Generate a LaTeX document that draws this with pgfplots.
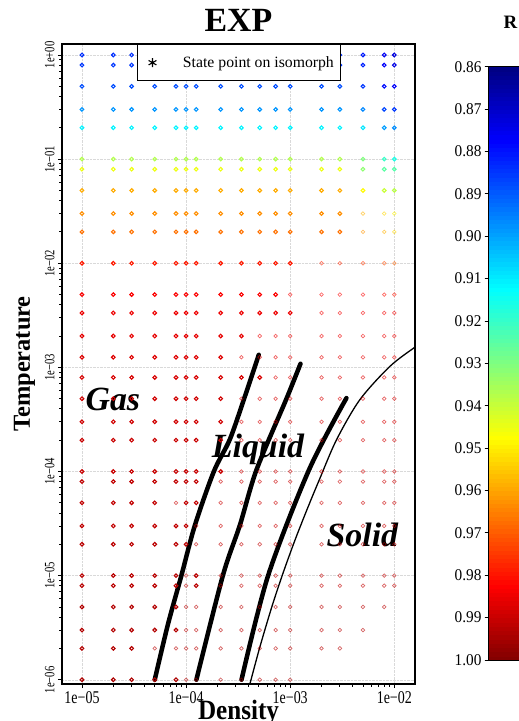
\documentclass[border=0pt]{standalone}
\usepackage{pgfplots}
\pgfplotsset{compat=1.18}
\usepackage{pgfplotstable}
\usepackage{fontspec}
\setmainfont{Liberation Serif}

% bold (opaque) state points: density, temperature, R
\pgfplotstableread[row sep=\\]{
x y R\\
1e-5 1 0.884\\ 2e-5 1 0.884\\ 3e-5 1 0.884\\ 5e-5 1 0.884\\ 8e-5 1 0.884\\ 1e-4 1 0.884\\ 1.25e-4 1 0.884\\ 2.15e-4 1 0.884\\ 3.4e-4 1 0.884\\
5.1e-4 1 0.884\\ 7.25e-4 1 0.884\\ 1e-3 1 0.884\\ 2e-3 1 0.884\\ 3e-3 1 0.884\\ 5e-3 1 0.881\\ 8e-3 1 0.876\\ 1e-2 1 0.873\\
1e-5 0.8 0.885\\ 2e-5 0.8 0.885\\ 3e-5 0.8 0.885\\ 5e-5 0.8 0.885\\ 8e-5 0.8 0.885\\ 1e-4 0.8 0.885\\ 1.25e-4 0.8 0.885\\ 2.15e-4 0.8 0.885\\ 3.4e-4 0.8 0.885\\
5.1e-4 0.8 0.885\\ 7.25e-4 0.8 0.885\\ 1e-3 0.8 0.885\\ 2e-3 0.8 0.885\\ 3e-3 0.8 0.885\\ 5e-3 0.8 0.882\\ 8e-3 0.8 0.877\\ 1e-2 0.8 0.874\\
1e-5 0.5 0.888\\ 2e-5 0.5 0.888\\ 3e-5 0.5 0.888\\ 5e-5 0.5 0.888\\ 8e-5 0.5 0.888\\ 1e-4 0.5 0.888\\ 1.25e-4 0.5 0.888\\ 2.15e-4 0.5 0.888\\ 3.4e-4 0.5 0.888\\
5.1e-4 0.5 0.888\\ 7.25e-4 0.5 0.888\\ 1e-3 0.5 0.888\\ 2e-3 0.5 0.888\\ 3e-3 0.5 0.888\\ 5e-3 0.5 0.885\\ 8e-3 0.5 0.879\\ 1e-2 0.5 0.877\\
1e-5 0.3 0.898\\ 2e-5 0.3 0.898\\ 3e-5 0.3 0.898\\ 5e-5 0.3 0.898\\ 8e-5 0.3 0.898\\ 1e-4 0.3 0.898\\ 1.25e-4 0.3 0.898\\ 2.15e-4 0.3 0.898\\ 3.4e-4 0.3 0.898\\
5.1e-4 0.3 0.898\\ 7.25e-4 0.3 0.898\\ 1e-3 0.3 0.898\\ 2e-3 0.3 0.898\\ 3e-3 0.3 0.898\\ 5e-3 0.3 0.896\\ 8e-3 0.3 0.887\\ 1e-2 0.3 0.885\\
1e-5 0.2 0.911\\ 2e-5 0.2 0.911\\ 3e-5 0.2 0.911\\ 5e-5 0.2 0.911\\ 8e-5 0.2 0.911\\ 1e-4 0.2 0.911\\ 1.25e-4 0.2 0.911\\ 2.15e-4 0.2 0.911\\ 3.4e-4 0.2 0.911\\
5.1e-4 0.2 0.911\\ 7.25e-4 0.2 0.911\\ 1e-3 0.2 0.911\\ 2e-3 0.2 0.911\\ 3e-3 0.2 0.911\\ 5e-3 0.2 0.909\\ 8e-3 0.2 0.899\\ 1e-2 0.2 0.897\\
1e-5 0.1 0.937\\ 2e-5 0.1 0.937\\ 3e-5 0.1 0.937\\ 5e-5 0.1 0.937\\ 8e-5 0.1 0.937\\ 1e-4 0.1 0.937\\ 1.25e-4 0.1 0.937\\ 2.15e-4 0.1 0.937\\ 3.4e-4 0.1 0.937\\
5.1e-4 0.1 0.937\\ 7.25e-4 0.1 0.937\\ 1e-3 0.1 0.937\\ 2e-3 0.1 0.937\\ 3e-3 0.1 0.937\\ 5e-3 0.1 0.930\\ 8e-3 0.1 0.920\\ 1e-2 0.1 0.916\\
1e-5 0.08 0.945\\ 2e-5 0.08 0.945\\ 3e-5 0.08 0.945\\ 5e-5 0.08 0.945\\ 8e-5 0.08 0.945\\ 1e-4 0.08 0.945\\ 1.25e-4 0.08 0.945\\ 2.15e-4 0.08 0.945\\ 3.4e-4 0.08 0.945\\
5.1e-4 0.08 0.945\\ 7.25e-4 0.08 0.945\\ 1e-3 0.08 0.945\\ 2e-3 0.08 0.945\\ 3e-3 0.08 0.945\\ 5e-3 0.08 0.932\\ 8e-3 0.08 0.925\\ 1e-2 0.08 0.924\\
1e-5 0.05 0.959\\ 2e-5 0.05 0.959\\ 3e-5 0.05 0.959\\ 5e-5 0.05 0.959\\ 8e-5 0.05 0.959\\ 1e-4 0.05 0.959\\ 1.25e-4 0.05 0.959\\ 2.15e-4 0.05 0.959\\ 3.4e-4 0.05 0.959\\
5.1e-4 0.05 0.959\\ 7.25e-4 0.05 0.959\\ 1e-3 0.05 0.959\\ 2e-3 0.05 0.959\\ 3e-3 0.05 0.959\\ 5e-3 0.05 0.948\\ 8e-3 0.05 0.940\\ 1e-2 0.05 0.938\\
1e-5 0.03 0.963\\ 2e-5 0.03 0.963\\ 3e-5 0.03 0.963\\ 5e-5 0.03 0.963\\ 8e-5 0.03 0.963\\ 1e-4 0.03 0.963\\ 1.25e-4 0.03 0.963\\ 2.15e-4 0.03 0.963\\ 3.4e-4 0.03 0.963\\
5.1e-4 0.03 0.963\\ 7.25e-4 0.03 0.963\\ 1e-3 0.03 0.963\\ 2e-3 0.03 0.963\\ 3e-3 0.03 0.963\\
1e-5 0.02 0.967\\ 2e-5 0.02 0.967\\ 3e-5 0.02 0.967\\ 5e-5 0.02 0.967\\ 8e-5 0.02 0.967\\ 1e-4 0.02 0.967\\ 1.25e-4 0.02 0.967\\ 2.15e-4 0.02 0.967\\ 3.4e-4 0.02 0.967\\
5.1e-4 0.02 0.967\\ 7.25e-4 0.02 0.967\\ 1e-3 0.02 0.967\\ 2e-3 0.02 0.967\\ 3e-3 0.02 0.967\\
1e-5 0.01 0.979\\ 2e-5 0.01 0.979\\ 3e-5 0.01 0.979\\ 5e-5 0.01 0.979\\ 8e-5 0.01 0.979\\ 1e-4 0.01 0.979\\ 1.25e-4 0.01 0.979\\ 2.15e-4 0.01 0.979\\ 3.4e-4 0.01 0.979\\
5.1e-4 0.01 0.979\\ 7.25e-4 0.01 0.979\\ 1e-3 0.01 0.979\\
1e-5 0.005 0.983\\ 2e-5 0.005 0.983\\ 3e-5 0.005 0.983\\ 5e-5 0.005 0.983\\ 8e-5 0.005 0.983\\ 1e-4 0.005 0.983\\ 1.25e-4 0.005 0.983\\ 2.15e-4 0.005 0.983\\ 3.4e-4 0.005 0.983\\
5.1e-4 0.005 0.983\\ 7.25e-4 0.005 0.983\\
1e-5 0.00333 0.985\\ 2e-5 0.00333 0.985\\ 3e-5 0.00333 0.985\\ 5e-5 0.00333 0.985\\ 8e-5 0.00333 0.985\\ 1e-4 0.00333 0.985\\ 1.25e-4 0.00333 0.985\\ 2.15e-4 0.00333 0.985\\ 3.4e-4 0.00333 0.985\\
5.1e-4 0.00333 0.985\\ 7.25e-4 0.00333 0.985\\ 1e-3 0.00333 0.985\\
1e-5 0.002 0.986\\ 2e-5 0.002 0.986\\ 3e-5 0.002 0.986\\ 5e-5 0.002 0.986\\ 8e-5 0.002 0.986\\ 1e-4 0.002 0.986\\ 1.25e-4 0.002 0.986\\ 2.15e-4 0.002 0.986\\ 3.4e-4 0.002 0.986\\
1e-5 0.00125 0.987\\ 2e-5 0.00125 0.987\\ 3e-5 0.00125 0.987\\ 5e-5 0.00125 0.987\\ 8e-5 0.00125 0.987\\ 1e-4 0.00125 0.987\\ 1.25e-4 0.00125 0.987\\ 2.15e-4 0.00125 0.987\\
1e-5 8e-4 0.988\\ 2e-5 8e-4 0.988\\ 3e-5 8e-4 0.988\\ 5e-5 8e-4 0.988\\ 8e-5 8e-4 0.988\\ 1e-4 8e-4 0.988\\ 1.25e-4 8e-4 0.988\\ 2.15e-4 8e-4 0.988\\ 3.4e-4 8e-4 0.988\\ 5.1e-4 8e-4 0.988\\
1e-5 5e-4 0.989\\ 2e-5 5e-4 0.989\\ 3e-5 5e-4 0.989\\ 5e-5 5e-4 0.989\\ 8e-5 5e-4 0.989\\ 1e-4 5e-4 0.989\\ 1.25e-4 5e-4 0.989\\ 2.15e-4 5e-4 0.989\\
1e-5 3e-4 0.989\\ 2e-5 3e-4 0.989\\ 3e-5 3e-4 0.989\\ 5e-5 3e-4 0.989\\ 8e-5 3e-4 0.989\\ 1e-4 3e-4 0.989\\ 1.25e-4 3e-4 0.989\\ 2.15e-4 3e-4 0.989\\
1e-5 2e-4 0.990\\ 2e-5 2e-4 0.990\\ 3e-5 2e-4 0.990\\ 5e-5 2e-4 0.990\\ 8e-5 2e-4 0.990\\ 1e-4 2e-4 0.990\\ 1.25e-4 2e-4 0.990\\ 2.15e-4 2e-4 0.990\\
1e-5 1e-4 0.990\\ 2e-5 1e-4 0.990\\ 3e-5 1e-4 0.990\\ 5e-5 1e-4 0.990\\ 8e-5 1e-4 0.990\\ 1e-4 1e-4 0.990\\ 1.25e-4 1e-4 0.990\\ 2.15e-4 1e-4 0.990\\
1e-5 8e-5 0.991\\ 2e-5 8e-5 0.991\\ 3e-5 8e-5 0.991\\ 5e-5 8e-5 0.991\\ 8e-5 8e-5 0.991\\ 1e-4 8e-5 0.991\\ 1.25e-4 8e-5 0.991\\
1e-5 5e-5 0.991\\ 2e-5 5e-5 0.991\\ 3e-5 5e-5 0.991\\ 5e-5 5e-5 0.991\\ 1e-4 5e-5 0.991\\ 1.25e-4 5e-5 0.991\\
1e-5 3e-5 0.991\\ 2e-5 3e-5 0.991\\ 3e-5 3e-5 0.991\\ 5e-5 3e-5 0.991\\ 8e-5 3e-5 0.991\\ 1e-4 3e-5 0.991\\
1e-5 2e-5 0.992\\ 2e-5 2e-5 0.992\\ 3e-5 2e-5 0.992\\ 5e-5 2e-5 0.992\\ 8e-5 2e-5 0.992\\ 1e-4 2e-5 0.992\\
1e-5 1e-5 0.992\\ 2e-5 1e-5 0.992\\ 3e-5 1e-5 0.992\\ 5e-5 1e-5 0.992\\ 8e-5 1e-5 0.992\\ 1.25e-4 1e-5 0.992\\
1e-5 8e-6 0.992\\ 2e-5 8e-6 0.992\\ 3e-5 8e-6 0.992\\ 5e-5 8e-6 0.992\\ 8e-5 8e-6 0.992\\ 1.25e-4 8e-6 0.992\\
1e-5 5e-6 0.993\\ 2e-5 5e-6 0.993\\ 3e-5 5e-6 0.993\\ 5e-5 5e-6 0.993\\ 8e-5 5e-6 0.993\\
1e-5 3e-6 0.993\\ 2e-5 3e-6 0.993\\ 3e-5 3e-6 0.993\\ 5e-5 3e-6 0.993\\ 8e-5 3e-6 0.993\\
1e-5 2e-6 0.993\\ 2e-5 2e-6 0.993\\ 3e-5 2e-6 0.993\\
1e-5 1e-6 0.994\\ 2e-5 1e-6 0.994\\ 3e-5 1e-6 0.994\\ 5e-5 1e-6 0.994\\ 8e-5 1e-6 0.994\\
}\boldpts

% faded (translucent) state points
\pgfplotstableread[row sep=\\]{
x y R\\
5e-3 0.03 0.958\\ 8e-3 0.03 0.953\\ 1e-2 0.03 0.949\\
5e-3 0.02 0.962\\ 8e-3 0.02 0.958\\ 1e-2 0.02 0.953\\
2e-3 0.01 0.978\\ 3e-3 0.01 0.977\\ 5e-3 0.01 0.975\\ 8e-3 0.01 0.972\\ 1e-2 0.01 0.969\\
1e-3 0.005 0.983\\ 2e-3 0.005 0.983\\ 3e-3 0.005 0.983\\ 5e-3 0.005 0.983\\ 8e-3 0.005 0.981\\ 1e-2 0.005 0.980\\
2e-3 0.00333 0.984\\ 3e-3 0.00333 0.984\\ 5e-3 0.00333 0.984\\ 8e-3 0.00333 0.984\\ 1e-2 0.00333 0.984\\
5.1e-4 0.002 0.985\\ 7.25e-4 0.002 0.985\\ 1e-3 0.002 0.985\\ 2e-3 0.002 0.985\\ 3e-3 0.002 0.985\\ 5e-3 0.002 0.985\\ 8e-3 0.002 0.985\\ 1e-2 0.002 0.985\\
3.4e-4 0.00125 0.986\\ 5.1e-4 0.00125 0.986\\ 7.25e-4 0.00125 0.986\\ 1e-3 0.00125 0.986\\ 2e-3 0.00125 0.986\\ 3e-3 0.00125 0.986\\ 5e-3 0.00125 0.986\\ 8e-3 0.00125 0.986\\ 1e-2 0.00125 0.986\\
7.25e-4 8e-4 0.987\\ 1e-3 8e-4 0.987\\ 2e-3 8e-4 0.987\\ 3e-3 8e-4 0.987\\ 5e-3 8e-4 0.987\\ 8e-3 8e-4 0.987\\ 1e-2 8e-4 0.987\\
3.4e-4 5e-4 0.988\\ 5.1e-4 5e-4 0.988\\ 7.25e-4 5e-4 0.988\\ 1e-3 5e-4 0.988\\ 2e-3 5e-4 0.988\\ 3e-3 5e-4 0.988\\ 5e-3 5e-4 0.988\\ 8e-3 5e-4 0.988\\ 1e-2 5e-4 0.988\\
3.4e-4 3e-4 0.988\\ 5.1e-4 3e-4 0.988\\ 7.25e-4 3e-4 0.988\\ 1e-3 3e-4 0.988\\ 2e-3 3e-4 0.988\\ 3e-3 3e-4 0.988\\ 5e-3 3e-4 0.988\\ 8e-3 3e-4 0.988\\ 1e-2 3e-4 0.988\\
3.4e-4 2e-4 0.989\\ 5.1e-4 2e-4 0.989\\ 7.25e-4 2e-4 0.989\\ 1e-3 2e-4 0.989\\ 2e-3 2e-4 0.989\\ 3e-3 2e-4 0.989\\ 5e-3 2e-4 0.989\\ 8e-3 2e-4 0.989\\ 1e-2 2e-4 0.989\\
3.4e-4 1e-4 0.989\\ 5.1e-4 1e-4 0.989\\ 7.25e-4 1e-4 0.989\\ 1e-3 1e-4 0.989\\ 2e-3 1e-4 0.989\\ 3e-3 1e-4 0.989\\ 5e-3 1e-4 0.989\\ 8e-3 1e-4 0.989\\ 1e-2 1e-4 0.989\\
2.15e-4 8e-5 0.990\\ 3.4e-4 8e-5 0.990\\ 5.1e-4 8e-5 0.990\\ 7.25e-4 8e-5 0.990\\ 1e-3 8e-5 0.990\\ 2e-3 8e-5 0.990\\ 3e-3 8e-5 0.990\\ 5e-3 8e-5 0.990\\ 8e-3 8e-5 0.990\\ 1e-2 8e-5 0.990\\
8e-5 5e-5 0.990\\ 2.15e-4 5e-5 0.990\\ 3.4e-4 5e-5 0.990\\ 5.1e-4 5e-5 0.990\\ 7.25e-4 5e-5 0.990\\ 1e-3 5e-5 0.990\\ 2e-3 5e-5 0.990\\ 3e-3 5e-5 0.990\\ 5e-3 5e-5 0.990\\ 8e-3 5e-5 0.990\\ 1e-2 5e-5 0.990\\
1.25e-4 3e-5 0.990\\ 2.15e-4 3e-5 0.990\\ 3.4e-4 3e-5 0.990\\ 5.1e-4 3e-5 0.990\\ 7.25e-4 3e-5 0.990\\ 1e-3 3e-5 0.990\\ 2e-3 3e-5 0.990\\ 3e-3 3e-5 0.990\\ 5e-3 3e-5 0.990\\ 8e-3 3e-5 0.990\\ 1e-2 3e-5 0.990\\
1.25e-4 2e-5 0.991\\ 2.15e-4 2e-5 0.991\\ 3.4e-4 2e-5 0.991\\ 5.1e-4 2e-5 0.991\\ 7.25e-4 2e-5 0.991\\ 1e-3 2e-5 0.991\\ 2e-3 2e-5 0.991\\ 3e-3 2e-5 0.991\\ 5e-3 2e-5 0.991\\ 8e-3 2e-5 0.991\\ 1e-2 2e-5 0.991\\
1e-4 1e-5 0.991\\ 2.15e-4 1e-5 0.991\\ 3.4e-4 1e-5 0.991\\ 5.1e-4 1e-5 0.991\\ 7.25e-4 1e-5 0.991\\ 1e-3 1e-5 0.991\\ 2e-3 1e-5 0.991\\ 3e-3 1e-5 0.991\\ 5e-3 1e-5 0.991\\ 8e-3 1e-5 0.991\\ 1e-2 1e-5 0.991\\
1e-4 8e-6 0.991\\ 2.15e-4 8e-6 0.991\\ 3.4e-4 8e-6 0.991\\ 5.1e-4 8e-6 0.991\\ 7.25e-4 8e-6 0.991\\ 1e-3 8e-6 0.991\\ 2e-3 8e-6 0.991\\ 3e-3 8e-6 0.991\\ 5e-3 8e-6 0.991\\ 8e-3 8e-6 0.991\\ 1e-2 8e-6 0.991\\
1e-4 5e-6 0.992\\ 1.25e-4 5e-6 0.992\\ 2.15e-4 5e-6 0.992\\ 3.4e-4 5e-6 0.992\\ 5.1e-4 5e-6 0.992\\ 7.25e-4 5e-6 0.992\\ 1e-3 5e-6 0.992\\ 2e-3 5e-6 0.992\\ 3e-3 5e-6 0.992\\ 5e-3 5e-6 0.992\\ 8e-3 5e-6 0.992\\
1e-4 3e-6 0.992\\ 1.25e-4 3e-6 0.992\\ 2.15e-4 3e-6 0.992\\ 3.4e-4 3e-6 0.992\\ 5.1e-4 3e-6 0.992\\ 7.25e-4 3e-6 0.992\\ 1e-3 3e-6 0.992\\ 2e-3 3e-6 0.992\\ 3e-3 3e-6 0.992\\ 5e-3 3e-6 0.992\\
5e-5 2e-6 0.992\\ 8e-5 2e-6 0.992\\ 1e-4 2e-6 0.992\\ 1.25e-4 2e-6 0.992\\ 2.15e-4 2e-6 0.992\\ 3.4e-4 2e-6 0.992\\ 5.1e-4 2e-6 0.992\\ 7.25e-4 2e-6 0.992\\ 1e-3 2e-6 0.992\\ 2e-3 2e-6 0.992\\ 3e-3 2e-6 0.992\\
1e-4 1e-6 0.993\\ 1.25e-4 1e-6 0.993\\ 2.15e-4 1e-6 0.993\\ 3.4e-4 1e-6 0.993\\ 5.1e-4 1e-6 0.993\\ 7.25e-4 1e-6 0.993\\ 1e-3 1e-6 0.993\\
}\fadedpts

\pgfplotstableread{
x y
5e-5 1e-6
6.69e-5 3.39e-6
9.01e-5 1e-5
1.215e-4 3.04e-5
1.848e-4 1e-4
2.63e-4 2.03e-4
3.61e-4 5e-4
4.99e-4 1.32e-3
}\isoA

\pgfplotstableread{
x y
1.256e-4 1e-6
2.255e-4 1e-5
3.283e-4 3.04e-5
4.75e-4 1.04e-4
9.21e-4 5e-4
1.256e-3 1.083e-3
}\isoB

\pgfplotstableread{
x y
3.408e-4 1e-6
6.135e-4 1e-5
1.518e-3 1.04e-4
3.47e-3 5.07e-4
}\isoC

\pgfplotstableread{
x y
3.95e-4 7.8e-7
4.13e-4 9.34e-7
5.14e-4 2.10e-6
6.69e-4 5.08e-6
8.55e-4 1.062e-5
1.117e-3 2.22e-5
1.492e-3 4.62e-5
1.906e-3 8.34e-5
2.788e-3 2.02e-4
4.666e-3 4.89e-4
9.05e-3 1.02e-3
1.573e-2 1.559e-3
1.8e-2 1.69e-3
}\meltline

\pgfplotsset{
  colormap={revjet}{rgb255(0cm)=(128,0,0); rgb255(1cm)=(255,0,0); rgb255(3cm)=(255,255,0);
    rgb255(5cm)=(0,255,255); rgb255(7cm)=(0,0,255); rgb255(8cm)=(0,0,128)},
}

\begin{document}
\begin{tikzpicture}
\begin{axis}[
  scale only axis, width=353bp, height=640bp,
  at={(0,0)}, anchor=south west,
  xmode=log, ymode=log,
  xmin=6.43e-6, xmax=1.58e-2, ymin=9.1e-7, ymax=1.275,
  xtick={1e-5,1e-4,1e-3,1e-2},
  xticklabels={1e−05,1e−04,1e−03,1e−02},
  ytick={1e-6,1e-5,1e-4,1e-3,1e-2,1e-1,1},
  yticklabels={1e−06,1e−05,1e−04,1e−03,1e−02,1e−01,1e+00},
  tick pos=left, tick align=outside,
  major tick length=4bp, minor tick length=2.5bp,
  every tick/.style={black, line width=0.8bp},
  axis line style={line width=1.6bp},
  grid=major, major grid style={densely dotted, gray!30, line width=0.4bp},
  xticklabel style={font=\fontsize{18}{20}\selectfont, xscale=0.78},
  yticklabel style={font=\fontsize{14.3}{16}\selectfont, rotate=90, xscale=0.745, anchor=south},
  title={\textbf{EXP}},
  title style={font=\fontsize{34}{40}\selectfont, at={(0.5,1)}, anchor=center, yshift=17.5bp},
  xlabel={\textbf{Density}},
  xlabel style={font=\fontsize{28}{32}\selectfont, xscale=0.9, at={(axis description cs:0.5,0)}, anchor=center, yshift=-28.5bp},
  ylabel={\textbf{Temperature}},
  ylabel style={font=\fontsize{24.5}{28}\selectfont, at={(axis description cs:-0.1062,0.5)}, anchor=center},
  colormap name=revjet,
  point meta min=-1.00, point meta max=-0.86,
  colorbar sampled,
  colorbar style={
    at={(parent axis.north east)}, anchor=north west,
    xshift=65.2bp, yshift=-22.7bp,
    width=31bp, height=593.3bp,
    samples=141,
    ytick={-1.00,-0.99,-0.98,-0.97,-0.96,-0.95,-0.94,-0.93,-0.92,-0.91,-0.90,-0.89,-0.88,-0.87,-0.86},
    yticklabels={1.00,0.99,0.98,0.97,0.96,0.95,0.94,0.93,0.92,0.91,0.90,0.89,0.88,0.87,0.86},
    yticklabel pos=left, ytick pos=left, tick align=outside,
    major tick length=4bp,
    every tick/.style={black, line width=0.8bp},
    axis line style={line width=0.8bp},
    yticklabel style={font=\fontsize{16.5}{18}\selectfont, xscale=0.93},
    title={\textbf{R}},
    title style={font=\fontsize{19}{22}\selectfont, at={(0.5,1)}, anchor=center, yshift=38.7bp, xshift=6.3bp},
  },
  legend style={at={(axis description cs:0.2125,1)}, anchor=north west,
    draw=black, line width=1bp, fill=white,
    font=\fontsize{15.8}{18}\selectfont, inner xsep=5bp, inner ysep=10bp},
  legend cell align=left,
]
\addplot[forget plot, scatter, only marks, mark=o, mark size=1.8bp, line width=0.7bp,
  point meta={-\thisrow{R}},
  scatter/use mapped color={draw=mapped color, draw opacity=0.6}]
  table[x=x, y=y] {\fadedpts};
\addplot[forget plot, scatter, only marks, mark=o, mark size=1.8bp, line width=1.1bp,
  point meta={-\thisrow{R}},
  scatter/use mapped color={draw=mapped color}]
  table[x=x, y=y] {\boldpts};
\addplot[forget plot, black, line width=4.5bp, line cap=round, smooth] table {\isoA};
\addplot[forget plot, black, line width=4.5bp, line cap=round, smooth] table {\isoB};
\addplot[forget plot, black, line width=4.5bp, line cap=round, smooth] table {\isoC};
\addplot[forget plot, black, line width=1.3bp, smooth] table {\meltline};
\addlegendimage{legend image code/.code={%
  \path[draw=none, fill=none] (0bp,-4bp) rectangle (38.5bp,4bp);
  \draw[black, line width=1.1bp] plot[mark=asterisk, mark size=4.5bp] coordinates {(10bp,0bp)};}}
\addlegendentry{State point on isomorph}
\node[font=\fontsize{34}{40}\selectfont\bfseries\itshape] at (axis cs:1.98e-5,4.89e-4) {Gas};
\node[font=\fontsize{34}{40}\selectfont\bfseries\itshape] at (axis cs:4.91e-4,1.62e-4) {Liquid};
\node[font=\fontsize{34}{40}\selectfont\bfseries\itshape] at (axis cs:4.93e-3,2.47e-5) {Solid};
\end{axis}
\pgfresetboundingbox
\path[use as bounding box] (-62bp,-37bp) rectangle (457bp,684bp);
\end{tikzpicture}
\end{document}
